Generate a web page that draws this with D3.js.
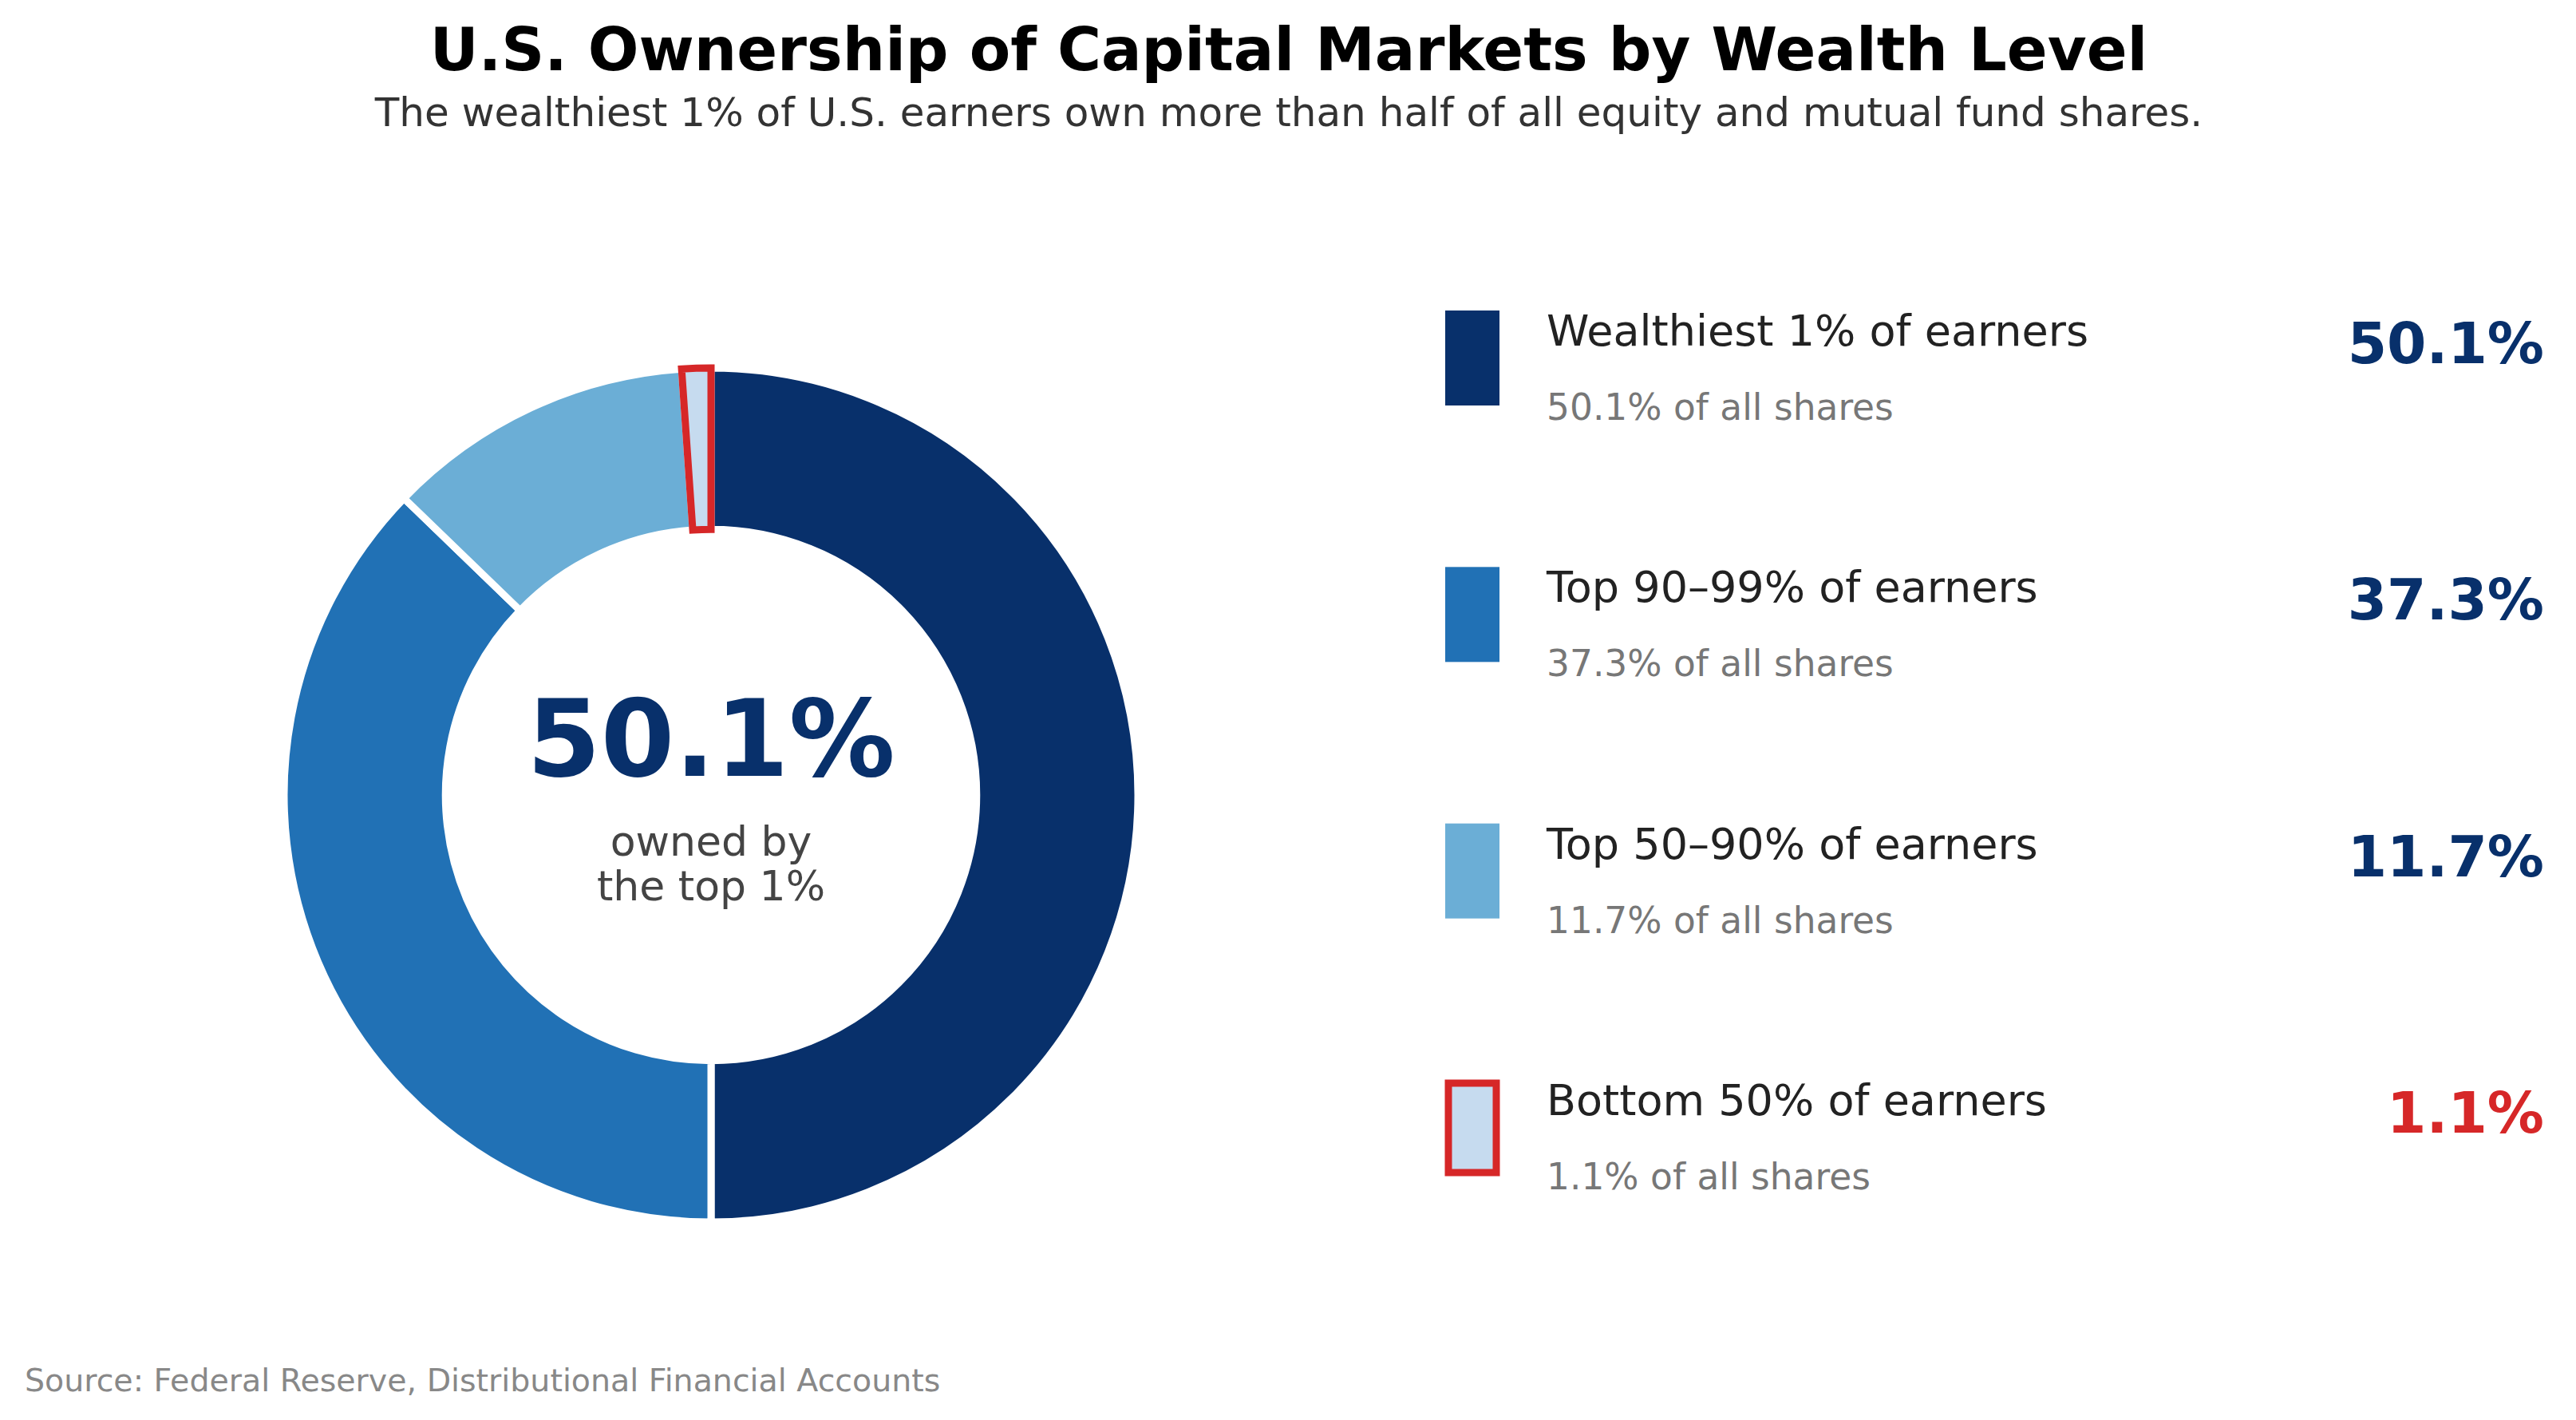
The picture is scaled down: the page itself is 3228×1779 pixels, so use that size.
<!DOCTYPE html>
<html>
<head>
<meta charset="utf-8">
<script src="https://cdn.jsdelivr.net/npm/d3@7"></script>
<style>
  body { margin: 0; background: #fff; }
  text { font-family: "DejaVu Sans", sans-serif; }
</style>
</head>
<body>
<svg id="chart"></svg>
<script>
// data
var groups = ["Wealthiest 1% of earners", "Top 90\u201399% of earners", "Top 50\u201390% of earners", "Bottom 50% of earners"];
var shares = [50.1, 37.3, 11.7, 1.1];
var colors = ["#08306b", "#2171b5", "#6baed6", "#c6dbef"];
var highlight = 3; // bottom 50% gets the red outline

var svgWidth = 3228, svgHeight = 1779;
var red = "#d62728";
var fmt = function(v) { return d3.format(".1f")(v) + "%"; };

var svg = d3.select("#chart")
    .attr("width", svgWidth)
    .attr("height", svgHeight);

svg.append("rect").attr("width", svgWidth).attr("height", svgHeight).attr("fill", "#fff");

// titles
svg.append("text")
    .attr("x", 1615).attr("y", 88)
    .attr("text-anchor", "middle")
    .attr("font-size", 75).attr("font-weight", "bold")
    .attr("fill", "#000")
    .text("U.S. Ownership of Capital Markets by Wealth Level");

svg.append("text")
    .attr("x", 1615).attr("y", 158)
    .attr("text-anchor", "middle")
    .attr("font-size", 50)
    .attr("fill", "#333")
    .text("The wealthiest 1% of U.S. earners own more than half of all equity and mutual fund shares.");

/*
Donut
*/
var cx = 891, cy = 996, R = 535;

var pie = d3.pie().sort(null).value(function(d) { return d; });
var arcs = pie(shares);
var arc = d3.arc().outerRadius(R).innerRadius(R * 0.622);

var g = svg.append("g").attr("transform", "translate(" + cx + "," + cy + ")");

g.selectAll("path.slice")
    .data(arcs.filter(function(d) { return d.index != highlight; }))
    .enter().append("path")
    .attr("class", "slice")
    .attr("d", arc)
    .attr("fill", function(d) { return colors[d.index]; })
    .attr("stroke", "#fff")
    .attr("stroke-width", 9)
    .attr("stroke-linejoin", "miter");

// highlighted wedge drawn last so its outline sits on top
g.append("path")
    .datum(arcs[highlight])
    .attr("d", arc)
    .attr("fill", colors[highlight])
    .attr("stroke", red)
    .attr("stroke-width", 9)
    .attr("stroke-linejoin", "miter");

g.append("text")
    .attr("x", 0).attr("y", -24)
    .attr("text-anchor", "middle")
    .attr("font-size", 133).attr("font-weight", "bold")
    .attr("fill", colors[0])
    .text(fmt(shares[0]));

g.append("text")
    .attr("x", 0).attr("y", 76)
    .attr("text-anchor", "middle")
    .attr("font-size", 52)
    .attr("fill", "#444")
    .text("owned by");

g.append("text")
    .attr("x", 0).attr("y", 132)
    .attr("text-anchor", "middle")
    .attr("font-size", 52)
    .attr("fill", "#444")
    .text("the top 1%");

/*
Legend
*/
var y = d3.scalePoint().domain(groups).range([389, 1353]);

var rows = svg.selectAll("g.row")
    .data(groups)
    .enter().append("g")
    .attr("class", "row")
    .attr("transform", function(d) { return "translate(0," + y(d) + ")"; });

rows.append("rect")
    .attr("x", function(d, i) { return i == highlight ? 1815 : 1811; })
    .attr("y", function(d, i) { return i == highlight ? 4 : 0; })
    .attr("width", function(d, i) { return i == highlight ? 60 : 68; })
    .attr("height", function(d, i) { return i == highlight ? 112 : 119; })
    .attr("fill", function(d, i) { return colors[i]; })
    .attr("stroke", function(d, i) { return i == highlight ? red : "none"; })
    .attr("stroke-width", 9);

rows.append("text")
    .attr("x", 1938).attr("y", 44)
    .attr("font-size", 54)
    .attr("fill", "#222")
    .text(function(d) { return d; });

rows.append("text")
    .attr("x", 1938).attr("y", 137)
    .attr("font-size", 45.5)
    .attr("fill", "#777")
    .text(function(d, i) { return fmt(shares[i]) + " of all shares"; });

rows.append("text")
    .attr("x", 3188).attr("y", 66)
    .attr("text-anchor", "end")
    .attr("font-size", 71).attr("font-weight", "bold")
    .attr("fill", function(d, i) { return i == highlight ? red : colors[0]; })
    .text(function(d, i) { return fmt(shares[i]); });

// source note
svg.append("text")
    .attr("x", 31).attr("y", 1743)
    .attr("font-size", 39.5)
    .attr("fill", "#888")
    .text("Source: Federal Reserve, Distributional Financial Accounts");
</script>
</body>
</html>
